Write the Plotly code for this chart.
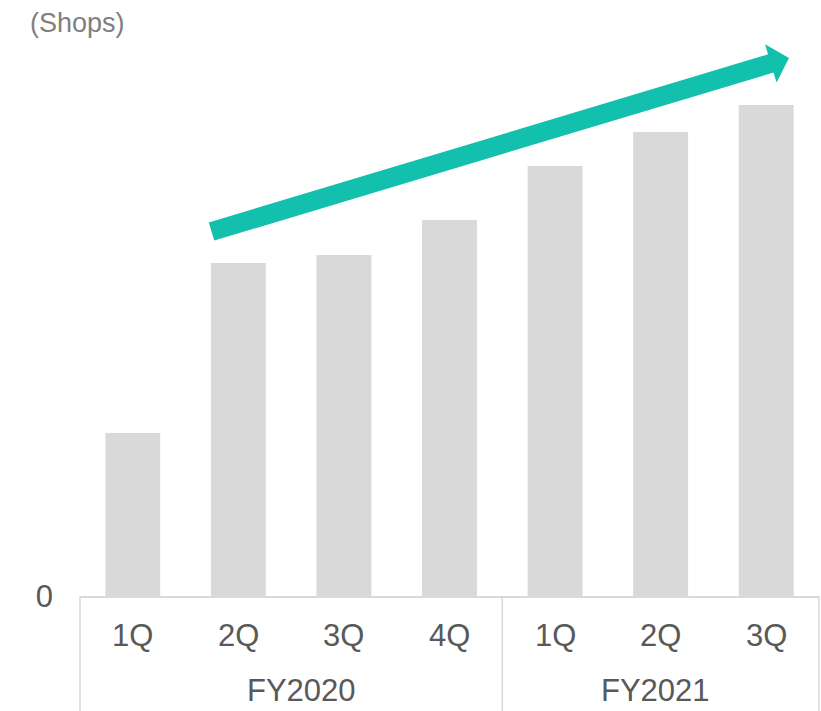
import math
import plotly.graph_objects as go

# Shop counts per quarter (read as relative bar heights; the axis only marks zero)
fiscal_years = ["FY2020", "FY2020", "FY2020", "FY2020", "FY2021", "FY2021", "FY2021"]
quarters = ["1Q", "2Q", "3Q", "4Q", "1Q", "2Q", "3Q"]
shops = [163, 333, 341, 376, 430, 464, 491]
year_labels = ["FY2020", "FY2021"]

W, H = 821, 711
M_L, M_R, M_T, M_B = 80, 2, 40, 115
PLOT_W = W - M_L - M_R
PLOT_H = H - M_T - M_B
Y_MAX = 556

TEXT = "#595959"
LINE = "#d9d9d9"
FONT = "Arial, Liberation Sans, sans-serif"
FS = 31

fig = go.Figure(
    go.Bar(
        x=[fiscal_years, quarters],
        y=shops,
        marker=dict(color="#d9d9d9", line=dict(width=0)),
        hoverinfo="skip",
    )
)


def to_paper(px, py):
    return (px - M_L) / PLOT_W, (H - M_B - py) / PLOT_H


def trend_arrow(start, tip, half_w=9.5, head_len=19, head_half=20):
    """Block arrow polygon (in paper coords) from start to tip given in pixels."""
    dx, dy = tip[0] - start[0], tip[1] - start[1]
    L = math.hypot(dx, dy)
    ux, uy = dx / L, dy / L
    nx, ny = -uy, ux
    bx, by = tip[0] - ux * head_len, tip[1] - uy * head_len
    pts = [
        (start[0] + nx * half_w, start[1] + ny * half_w),
        (bx + nx * half_w, by + ny * half_w),
        (bx + nx * head_half, by + ny * head_half),
        tip,
        (bx - nx * head_half, by - ny * head_half),
        (bx - nx * half_w, by - ny * half_w),
        (start[0] - nx * half_w, start[1] - ny * half_w),
    ]
    pp = [to_paper(x, y) for x, y in pts]
    return "M " + " L ".join(f"{x:.5f},{y:.5f}" for x, y in pp) + " Z"


fig.add_shape(
    type="path",
    xref="paper",
    yref="paper",
    path=trend_arrow((211.5, 231.5), (789, 58)),
    fillcolor="#13bfad",
    line=dict(width=0),
    layer="above",
)

# Category table below the axis: quarter row, fiscal-year row and group dividers
n = len(quarters)
_, y_q = to_paper(0, 635)
_, y_fy = to_paper(0, 690)
_, y_bottom = to_paper(0, H)
for i, q in enumerate(quarters):
    fig.add_annotation(
        text=q, xref="paper", yref="paper", x=(i + 0.5) / n, y=y_q,
        xanchor="center", yanchor="middle", showarrow=False,
        font=dict(family=FONT, size=FS, color=TEXT),
    )

bounds = [0]
for i in range(1, n):
    if fiscal_years[i] != fiscal_years[i - 1]:
        bounds.append(i)
bounds.append(n)

# year labels sit slightly right of group centre in the first group, left in the second
label_offsets = [0.1, -0.05]
for k, fy in enumerate(year_labels):
    centre = (bounds[k] + bounds[k + 1]) / 2 + label_offsets[k]
    fig.add_annotation(
        text=fy, xref="paper", yref="paper", x=centre / n, y=y_fy,
        xanchor="center", yanchor="middle", showarrow=False,
        font=dict(family=FONT, size=FS, color=TEXT),
    )

for b in bounds:
    xp = min(max(b / n, 0.0), 1.0)
    fig.add_shape(
        type="line", xref="paper", yref="paper",
        x0=xp, x1=xp, y0=0, y1=y_bottom,
        line=dict(color=LINE, width=1.5),
    )

fig.add_annotation(
    text="(Shops)",
    xref="paper",
    yref="paper",
    x=to_paper(28, 0)[0],
    y=to_paper(0, 23)[1],
    xanchor="left",
    yanchor="middle",
    showarrow=False,
    font=dict(family=FONT, size=27, color="#7f7f7f"),
)

fig.update_layout(
    width=W,
    height=H,
    margin=dict(l=M_L, r=M_R, t=M_T, b=M_B),
    paper_bgcolor="white",
    plot_bgcolor="white",
    bargap=0.48,
    showlegend=False,
    font=dict(family=FONT, color=TEXT, size=FS),
)

fig.update_xaxes(
    type="multicategory",
    showline=True,
    linecolor=LINE,
    linewidth=1.5,
    showgrid=False,
    ticks="",
    showticklabels=False,
    showdividers=False,
)

fig.update_yaxes(
    range=[0, Y_MAX],
    showgrid=False,
    zeroline=False,
    showline=False,
    tickvals=[0],
    ticktext=["0"],
    ticks="",
    ticklabelstandoff=26,
    tickfont=dict(family=FONT, size=FS, color=TEXT),
)

fig.write_html("out.html")
